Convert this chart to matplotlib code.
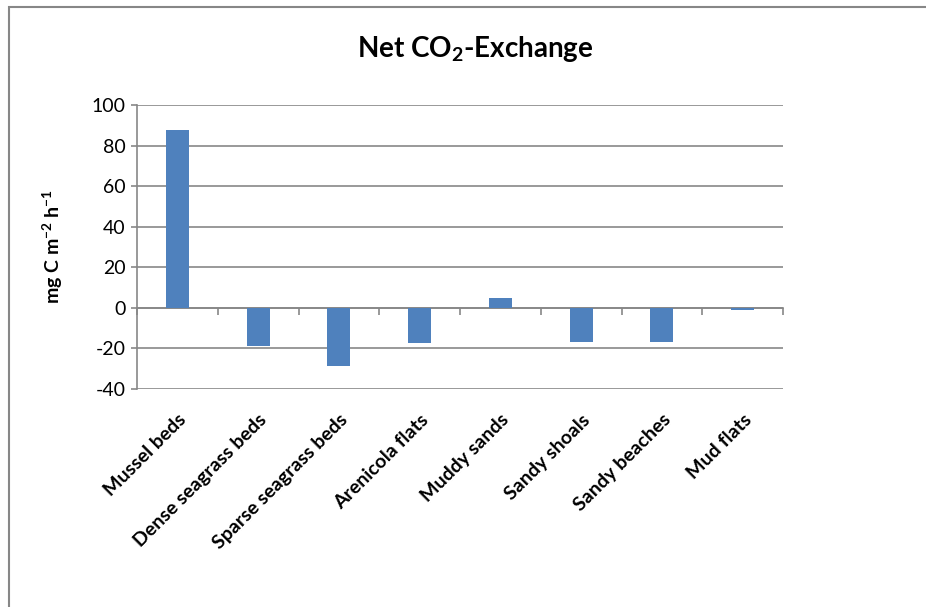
import numpy as np
import matplotlib
matplotlib.use("Agg")
import matplotlib.pyplot as plt
from matplotlib.patches import Rectangle

plt.rcParams['font.family'] = ['Lato', 'DejaVu Sans']
plt.rcParams['mathtext.fontset'] = 'custom'
plt.rcParams['mathtext.rm'] = 'Lato'
plt.rcParams['mathtext.bf'] = 'Lato:bold'
plt.rcParams['mathtext.default'] = 'bf'
plt.rcParams['axes.unicode_minus'] = False

# data
habitats = ['Mussel beds', 'Dense seagrass beds', 'Sparse seagrass beds',
            'Arenicola flats', 'Muddy sands', 'Sandy shoals',
            'Sandy beaches', 'Mud flats']
net_co2 = [87.7, -18.6, -28.9, -17.1, 4.8, -16.8, -16.8, -1.3]
yticks = [-40, -20, 0, 20, 40, 60, 80, 100]

grey = '#878787'
blue = '#4F81BD'

fig = plt.figure(figsize=(9.26, 6.07), dpi=100)
ax = fig.add_axes([137/926, 1 - 389/607, 646/926, 284/607])

x = np.arange(len(habitats))
ax.bar(x, net_co2, width=0.285, color=blue, zorder=3)

ax.set_xlim(-0.5, len(habitats) - 0.5)
ax.set_ylim(-40, 100)
ax.set_yticks(yticks)
ax.set_yticklabels([str(v) for v in yticks], fontsize=14)
ax.yaxis.grid(True, color=grey, linewidth=1.2)
ax.set_axisbelow(True)

for s in ['top', 'right', 'bottom']:
    ax.spines[s].set_visible(False)
ax.spines['left'].set_color(grey)
ax.spines['left'].set_linewidth(1.2)
ax.tick_params(axis='y', direction='out', length=4, width=1.2, color=grey, pad=4)

# category labels at bottom
ax.set_xticks(x)
ax.set_xticklabels(habitats, rotation=45, ha='right', rotation_mode='anchor',
                   fontsize=14, fontweight='bold')
ax.tick_params(axis='x', length=0, pad=16)

# category axis crossing at zero, with ticks between categories
zax = ax.secondary_xaxis(0, transform=ax.transData)
zax.set_xticks(np.arange(len(habitats) + 1) - 0.5)
zax.set_xticklabels([])
zax.tick_params(direction='out', length=5, width=1.2, color=grey)
zax.spines['bottom'].set_color(grey)
zax.spines['bottom'].set_linewidth(1.2)

ax.set_ylabel(r'mg C m$^{-2}$ h$^{-1}$', fontsize=14, fontweight='bold')
ax.yaxis.set_label_coords(-0.112, 0.5)

fig.text(0.513, 1 - 49/607, r'Net CO$_2$-Exchange', ha='center', va='center',
         fontsize=20, fontweight='bold')

# chart frame
fig.patches.append(Rectangle((8.5/926, -0.1), 1.2, 1.1 - 7.5/607,
                             transform=fig.transFigure, fill=False,
                             edgecolor=grey, linewidth=1.5))

fig.savefig('out.png', dpi=100)
